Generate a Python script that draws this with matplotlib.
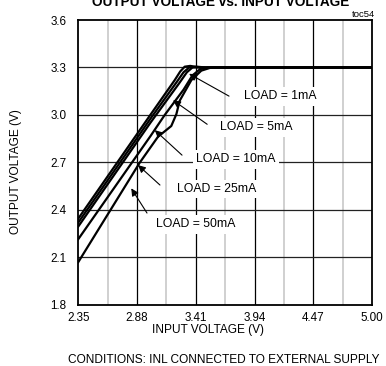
import matplotlib
matplotlib.use('Agg')
import matplotlib.pyplot as plt
import numpy as np

plt.rcParams['font.family'] = ['Liberation Sans', 'DejaVu Sans']

# curves: input voltage (V) -> output voltage (V)
vin_1ma = [2.35, 3.00, 3.22, 3.27, 3.31, 3.36, 3.45, 5.00]
vout_1ma = [2.345, 3.00, 3.22, 3.275, 3.305, 3.31, 3.30, 3.30]
vin_5ma = [2.35, 3.00, 3.24, 3.30, 3.35, 3.42, 3.50, 5.00]
vout_5ma = [2.32, 2.975, 3.21, 3.27, 3.30, 3.305, 3.30, 3.30]
vin_10ma = [2.35, 3.00, 3.26, 3.33, 3.38, 3.46, 5.00]
vout_10ma = [2.295, 2.95, 3.20, 3.27, 3.30, 3.30, 3.30]
vin_25ma = [2.35, 3.00, 3.13, 3.30, 3.38, 3.45, 3.52, 5.00]
vout_25ma = [2.215, 2.865, 3.00, 3.16, 3.25, 3.29, 3.30, 3.30]
vin_50ma = [2.35, 2.904, 3.069, 3.189, 3.235, 3.265, 3.37, 3.46, 3.55, 5.00]
vout_50ma = [2.07, 2.698, 2.862, 2.93, 3.005, 3.09, 3.22, 3.28, 3.30, 3.30]

loads = ["LOAD = 1mA", "LOAD = 5mA", "LOAD = 10mA", "LOAD = 25mA", "LOAD = 50mA"]
label_pos = [(4.17, 3.119), (3.954, 2.923), (3.773, 2.721), (3.602, 2.532), (3.412, 2.31)]
arrow_tail = [(3.71, 3.119), (3.513, 2.941), (3.286, 2.746), (3.087, 2.557), (2.97, 2.38)]
arrow_head = [(3.35, 3.26), (3.205, 3.093), (3.04, 2.904), (2.889, 2.683), (2.828, 2.536)]

xticks = [2.35, 2.88, 3.41, 3.94, 4.47, 5.00]
yticks = [1.8, 2.1, 2.4, 2.7, 3.0, 3.3, 3.6]

fig = plt.figure(figsize=(3.86, 3.66), dpi=100)
ax = fig.add_axes([0.2028, 0.1672, 0.7609, 0.7781])

# grid: light minor verticals, dark majors
for i in range(len(xticks) - 1):
    ax.axvline((xticks[i] + xticks[i + 1]) / 2, color='#c8c8c8', lw=1.2, zorder=1)
for x in xticks[1:-1]:
    ax.axvline(x, color='k', lw=0.9, zorder=1)
for y in yticks[1:-1]:
    ax.axhline(y, color='#222222', lw=0.9, zorder=1)

for vin, vout in [(vin_1ma, vout_1ma), (vin_5ma, vout_5ma), (vin_10ma, vout_10ma),
                  (vin_25ma, vout_25ma), (vin_50ma, vout_50ma)]:
    ax.plot(vin, vout, color='k', lw=1.6, zorder=3, solid_joinstyle='round')

for lab, pos, tail, head in zip(loads, label_pos, arrow_tail, arrow_head):
    ax.text(pos[0], pos[1], lab, ha='center', va='center', fontsize=8.8, zorder=4,
            bbox=dict(facecolor='white', edgecolor='none', pad=2.5))
    ax.annotate('', xy=head, xytext=tail, zorder=5,
                arrowprops=dict(arrowstyle='-|>', color='k', lw=0.8,
                                mutation_scale=11, shrinkA=0, shrinkB=0))

ax.set_xlim(2.35, 5.00)
ax.set_ylim(1.8, 3.6)
ax.set_xticks(xticks)
ax.set_xticklabels([f"{x:.2f}" for x in xticks])
ax.set_yticks(yticks)
ax.set_yticklabels([f"{y:.1f}" for y in yticks])
ax.tick_params(length=0, labelsize=8.4)
ax.tick_params(axis='y', pad=8.4)
ax.tick_params(axis='x', pad=5.3)
for s in ax.spines.values():
    s.set_linewidth(1.3)

# title sits right at the top edge, as in the original
fig.text(220.5 / 386, 1 - 5.5 / 366, "OUTPUT VOLTAGE vs. INPUT VOLTAGE", ha='center',
         va='baseline', fontsize=9.8, fontweight='bold')
fig.text(375 / 386, 1 - 17 / 366, "toc54", ha='right', va='baseline', fontsize=6.8)
fig.text(208.5 / 386, 1 - 330 / 366, "INPUT VOLTAGE (V)", ha='center', va='center', fontsize=8.6)
fig.text(68 / 386, 1 - 360 / 366, "CONDITIONS: INL CONNECTED TO EXTERNAL SUPPLY",
         ha='left', va='center', fontsize=8.6)
fig.text(16 / 386, 1 - 172 / 366, "OUTPUT VOLTAGE (V)", ha='center', va='center',
         rotation=90, fontsize=8.6)

fig.savefig('out.png', dpi=100)
